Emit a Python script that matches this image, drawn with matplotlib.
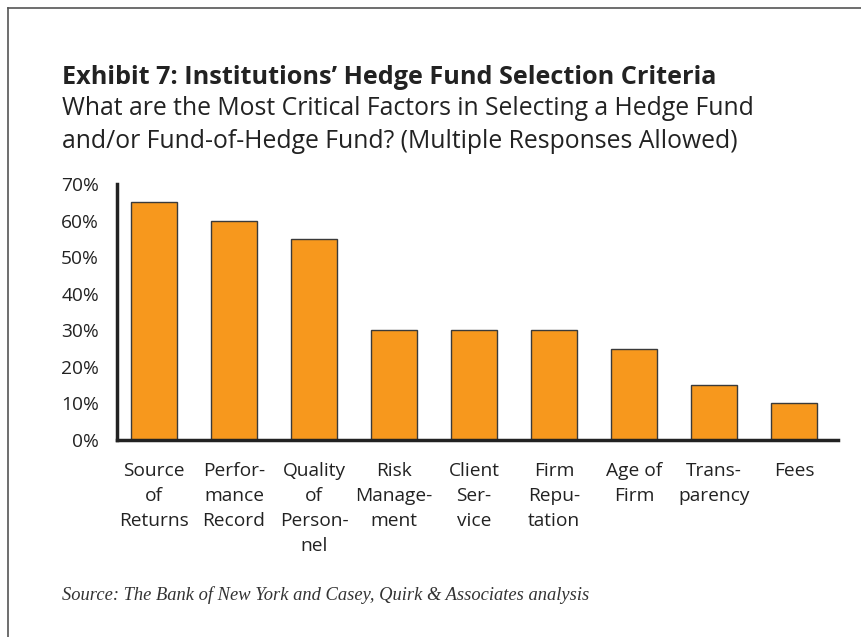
import matplotlib.pyplot as plt
import numpy as np

categories = ["Source\nof\nReturns", "Perfor-\nmance\nRecord", "Quality\nof\nPerson-\nnel",
              "Risk\nManage-\nment", "Client\nSer-\nvice", "Firm\nRepu-\ntation",
              "Age of\nFirm", "Trans-\nparency", "Fees"]
values = [65, 60, 55, 30, 30, 30, 25, 15, 10]
yticks = [0, 10, 20, 30, 40, 50, 60, 70]

plt.rcParams['font.family'] = ['Open Sans', 'DejaVu Sans']

fig = plt.figure(figsize=(8.61, 6.37), dpi=100)
W, H = 861, 637

# outer frame (top and left edges)
fig.add_artist(plt.Line2D([8 / W, 1], [1 - 8 / H, 1 - 8 / H], color="#555555", lw=1.2))
fig.add_artist(plt.Line2D([8 / W, 8 / W], [0, 1 - 8 / H], color="#555555", lw=1.2))

fig.text(62 / W, 1 - 84 / H, "Exhibit 7: Institutions\u2019 Hedge Fund Selection Criteria",
         fontsize=18.2, fontweight="bold", color="#222222", va="baseline")
fig.text(62 / W, 1 - 115 / H, "What are the Most Critical Factors in Selecting a Hedge Fund",
         fontsize=17.8, color="#222222", va="baseline")
fig.text(62 / W, 1 - 148 / H, "and/or Fund-of-Hedge Fund? (Multiple Responses Allowed)",
         fontsize=17.8, color="#222222", va="baseline")
fig.text(62 / W, 1 - 600 / H,
         "Source: The Bank of New York and Casey, Quirk & Associates analysis",
         fontsize=13.3, style="italic", family="Liberation Serif", color="#333333", va="baseline")

ax = fig.add_axes([117 / W, 1 - 440 / H, (838 - 117) / W, (440 - 184) / H])
x = np.arange(len(categories))
ax.bar(x, values, width=0.58, color="#F7981D", edgecolor="#3a3a3a", linewidth=1.0)

ax.set_xlim(-0.4625, 8.55)
ax.set_ylim(0, 70)
ax.set_yticks(yticks)
ax.set_yticklabels([f"{v}%" for v in yticks], fontsize=13.8, color="#222222")
ax.set_xticks(x)
ax.set_xticklabels(categories, fontsize=13.8, color="#222222", va="top", linespacing=1.5)
ax.tick_params(axis="both", length=0)
ax.tick_params(axis="y", pad=13)
ax.tick_params(axis="x", pad=16)

for s in ["top", "right"]:
    ax.spines[s].set_visible(False)
ax.spines["left"].set_linewidth(2.5)
ax.spines["bottom"].set_linewidth(2.5)
ax.spines["left"].set_color("#222222")
ax.spines["bottom"].set_color("#222222")

fig.savefig("out.png", dpi=100)
